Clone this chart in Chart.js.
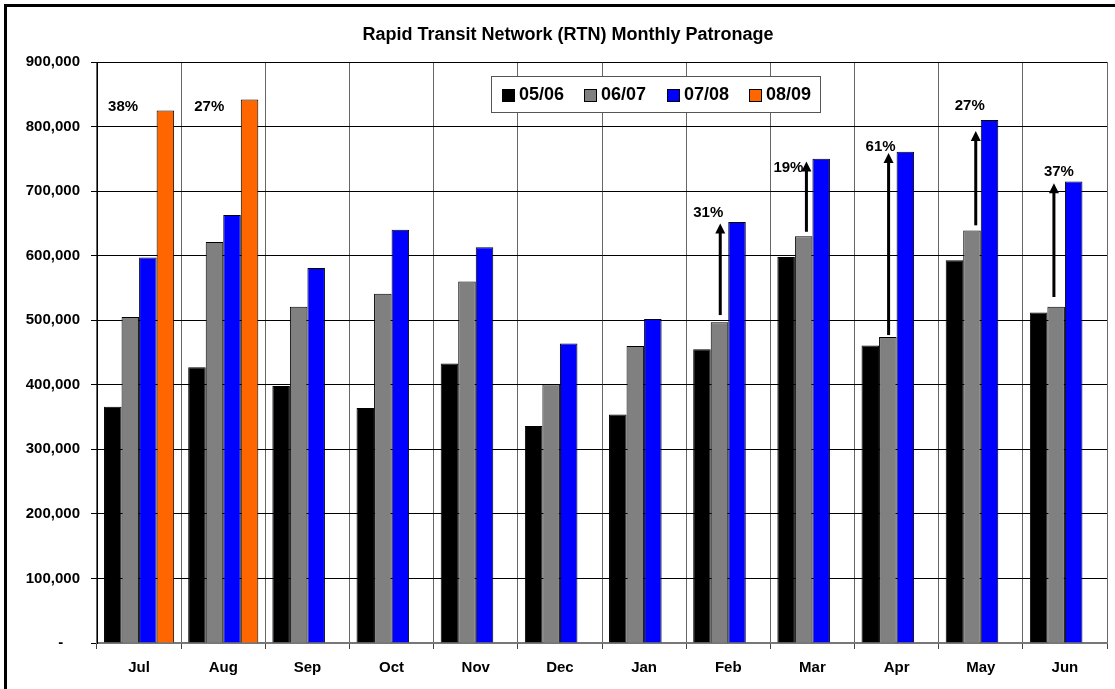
<!DOCTYPE html>
<html>
<head>
<meta charset="utf-8">
<title>RTN Monthly Patronage</title>
<script src="https://cdn.jsdelivr.net/npm/chart.js@4.4.1/dist/chart.umd.min.js"></script>
<style>
  html, body { margin: 0; padding: 0; background: #fff; }
  #wrap { position: relative; width: 1115px; height: 689px; }
</style>
</head>
<body>
<div id="wrap"><canvas id="rtnChart" width="1115" height="689"></canvas></div>
<script>
const months = ['Jul', 'Aug', 'Sep', 'Oct', 'Nov', 'Dec', 'Jan', 'Feb', 'Mar', 'Apr', 'May', 'Jun'];
const seriesNames = ['05/06', '06/07', '07/08', '08/09'];
const chartTitle = 'Rapid Transit Network (RTN) Monthly Patronage';

const fy0506 = [366000, 427000, 398000, 364000, 433000, 336000, 354000, 455000, 598000, 461000, 593000, 512000];
const fy0607 = [505000, 621000, 521000, 541000, 560000, 401000, 460000, 497000, 630000, 474000, 639000, 521000];
const fy0708 = [597000, 663000, 581000, 640000, 613000, 464000, 502000, 652000, 750000, 761000, 810000, 715000];
const fy0809 = [825000, 842000, null, null, null, null, null, null, null, null, null, null];

const yTicks = [0, 100000, 200000, 300000, 400000, 500000, 600000, 700000, 800000, 900000];

// growth labels
const growthMonths = ['Jul', 'Aug', 'Feb', 'Mar', 'Apr', 'May', 'Jun'];
const growthText = ['38%', '27%', '31%', '19%', '61%', '27%', '37%'];
const growthY = [831000, 831000, 666000, 736000, 769000, 832000, 730000];

// arrows
const arrowMonths = ['Feb', 'Mar', 'Apr', 'May', 'Jun'];
const arrowFrom = [508000, 637000, 477000, 647000, 536000];
const arrowTo = [650000, 746000, 759000, 793000, 712000];

const colors = ['#000000', '#808080', '#0000ff', '#ff6600'];
const growthDx = [-16, -14, -20, -24, -16, -11, -6];
const arrowDx = [-8, -6, -8, -5, -11];

const FONT = 'Arial, "Liberation Sans", Helvetica, sans-serif';

function fmt(v) {
  if (v === 0) return '-    ';
  return v.toLocaleString('en-US');
}

const extrasPlugin = {
  id: 'extras',
  beforeDraw(chart) {
    const ctx = chart.ctx;
    ctx.save();
    ctx.fillStyle = '#fff';
    ctx.fillRect(0, 0, chart.width, chart.height);
    ctx.lineWidth = 3;
    ctx.strokeStyle = '#000';
    ctx.strokeRect(5.5, 5.5, chart.width + 20, chart.height + 20);
    ctx.restore();
  },
  afterDraw(chart) {
    const ctx = chart.ctx;
    const x = chart.scales.x;
    const y = chart.scales.y;
    const area = chart.chartArea;

    ctx.save();
    // title
    ctx.fillStyle = '#000';
    ctx.font = 'bold 18px ' + FONT;
    ctx.textAlign = 'center';
    ctx.textBaseline = 'middle';
    ctx.fillText(chartTitle, 568, 35);

    // arrows
    ctx.strokeStyle = '#000';
    ctx.fillStyle = '#000';
    ctx.lineWidth = 3;
    arrowMonths.forEach(function (m, i) {
      const px = x.getPixelForValue(months.indexOf(m)) + arrowDx[i];
      const y0 = y.getPixelForValue(arrowFrom[i]);
      const y1 = y.getPixelForValue(arrowTo[i]);
      ctx.beginPath();
      ctx.moveTo(px, y0);
      ctx.lineTo(px, y1 + 8);
      ctx.stroke();
      ctx.beginPath();
      ctx.moveTo(px, y1);
      ctx.lineTo(px - 5, y1 + 10);
      ctx.lineTo(px + 5, y1 + 10);
      ctx.closePath();
      ctx.fill();
    });

    // growth percentages
    ctx.font = 'bold 15px ' + FONT;
    growthMonths.forEach(function (m, i) {
      const px = x.getPixelForValue(months.indexOf(m)) + growthDx[i];
      ctx.fillText(growthText[i], px, y.getPixelForValue(growthY[i]));
    });

    // legend box
    const lx = area.left + 394, ly = 76, lw = 329, lh = 36;
    ctx.fillStyle = '#fff';
    ctx.fillRect(lx, ly, lw, lh);
    ctx.lineWidth = 1;
    ctx.strokeStyle = '#555';
    ctx.strokeRect(lx + 0.5, ly + 0.5, lw, lh);
    ctx.font = 'bold 18px ' + FONT;
    ctx.textAlign = 'left';
    const itemX = [11, 93, 176, 258];
    chart.data.datasets.forEach(function (ds, i) {
      const ix = lx + itemX[i];
      ctx.fillStyle = ds.backgroundColor;
      ctx.fillRect(ix, ly + 13, 12, 12);
      ctx.strokeStyle = '#000';
      ctx.strokeRect(ix + 0.5, ly + 13.5, 12, 12);
      ctx.fillStyle = '#000';
      ctx.fillText(ds.label, ix + 17, ly + 19.5);
    });
    ctx.restore();
  }
};

new Chart(document.getElementById('rtnChart'), {
  type: 'bar',
  data: {
    labels: months,
    datasets: [fy0506, fy0607, fy0708, fy0809].map(function (d, i) {
      return {
        label: seriesNames[i],
        data: d,
        backgroundColor: colors[i],
        borderColor: '#000',
        borderWidth: 1,
        categoryPercentage: 0.833,
        barPercentage: 1.0
      };
    })
  },
  options: {
    responsive: false,
    animation: false,
    layout: { padding: { left: 10, right: 8, top: 62, bottom: 0 } },
    plugins: {
      legend: { display: false },
      tooltip: { enabled: false },
      title: { display: false }
    },
    scales: {
      x: {
        grid: {
          offset: true,
          color: '#666',
          lineWidth: 1,
          drawTicks: true,
          tickLength: 6,
          tickColor: '#444'
        },
        border: { color: '#777', width: 2 },
        ticks: {
          color: '#000',
          font: { family: FONT, size: 15, weight: 'bold' },
          padding: 10,
          maxRotation: 0
        },
        afterFit: function (scale) { scale.height = 46; }
      },
      y: {
        min: 0,
        max: 900000,
        afterBuildTicks: function (scale) {
          scale.ticks = yTicks.map(function (v) { return { value: v }; });
        },
        grid: {
          color: '#000',
          lineWidth: 1,
          tickLength: 6,
          tickColor: '#000'
        },
        border: { color: '#000', width: 1 },
        ticks: {
          color: '#000',
          font: { family: FONT, size: 15, weight: 'bold' },
          padding: 11,
          callback: function (v) { return fmt(v); }
        },
        afterFit: function (scale) { scale.width = 87; }
      }
    }
  },
  plugins: [extrasPlugin]
});
</script>
</body>
</html>
